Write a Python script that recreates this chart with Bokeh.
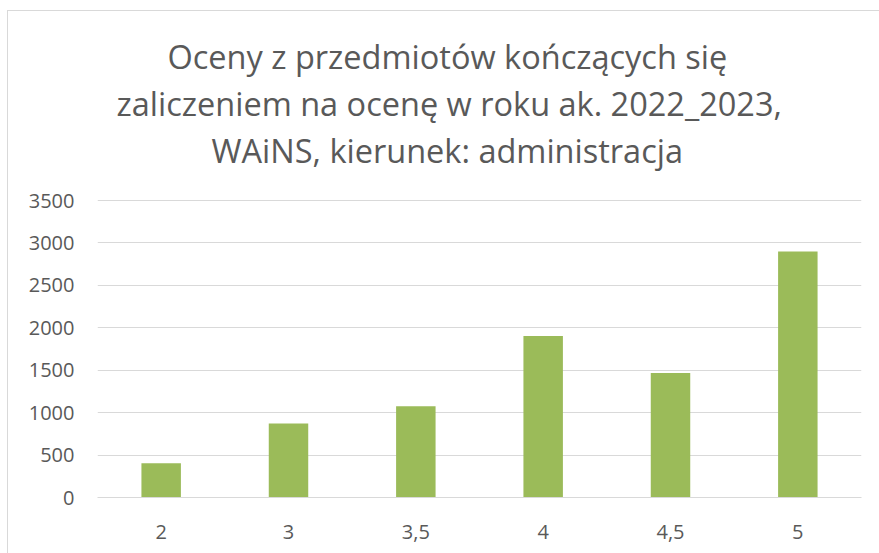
from bokeh.plotting import figure
from bokeh.models import ColumnDataSource, FactorRange, Range1d, Title, NumeralTickFormatter
from bokeh.embed import file_html
from bokeh.resources import INLINE

categories = ["2", "3", "3,5", "4", "4,5", "5"]
counts = [405, 873, 1074, 1904, 1468, 2899]
title_lines = [
    "Oceny z przedmiotów kończących się",
    "zaliczeniem na ocenę w roku ak. 2022_2023,",
    "WAiNS, kierunek: administracja",
]
# left offsets (px from plot frame left) that centre each title line at the chart-area centre
title_offsets = [70, 19, 114]

FONT = "Open Sans"
GREY = "#595959"

source = ColumnDataSource(data=dict(cat=categories, val=counts))

p = figure(
    x_range=FactorRange(*categories, range_padding=0),
    y_range=Range1d(0, 3512),
    width=872, height=543,
    margin=(10, 0, 0, 7),
    output_backend="svg", toolbar_location=None,
    min_border_left=89, min_border_right=19, min_border_bottom=57, min_border_top=188,
    styles={"border-left": "1px solid #d9d9d9", "border-top": "1px solid #d9d9d9"},
)

p.vbar(x="cat", top="val", width=0.31, source=source,
       fill_color="#9bbb59", line_color=None)

# spacer between the title block and the plot frame
p.add_layout(Title(text=" ", text_font_size="10px", standoff=14), "above")
for t, off in reversed(list(zip(title_lines, title_offsets))):
    p.add_layout(Title(text=t, align="left", offset=off, text_font=FONT,
                       text_font_size="32.5px", text_font_style="normal",
                       text_line_height=1.1, text_color=GREY, standoff=0), "above")

p.outline_line_color = None
p.background_fill_color = "white"
p.border_fill_color = "white"

p.xgrid.grid_line_color = None
p.ygrid.grid_line_color = "#d9d9d9"
p.ygrid.grid_line_width = 1

p.yaxis.ticker = [0, 500, 1000, 1500, 2000, 2500, 3000, 3500]
p.yaxis.axis_line_color = None
p.yaxis.major_tick_line_color = None
p.yaxis.minor_tick_line_color = None
p.yaxis.major_tick_out = 0
p.yaxis.major_label_standoff = 23
p.yaxis.major_label_text_font = FONT
p.yaxis.major_label_text_font_size = "20px"
p.yaxis.major_label_text_color = GREY
p.yaxis.formatter = NumeralTickFormatter(format="0")

p.xaxis.axis_line_color = "#d9d9d9"
p.xaxis.major_tick_line_color = None
p.xaxis.minor_tick_line_color = None
p.xaxis.major_tick_out = 0
p.xaxis.major_label_standoff = 27
p.xaxis.major_label_text_font = FONT
p.xaxis.major_label_text_font_size = "20px"
p.xaxis.major_label_text_color = GREY

open("out.html", "w").write(file_html(p, INLINE))
